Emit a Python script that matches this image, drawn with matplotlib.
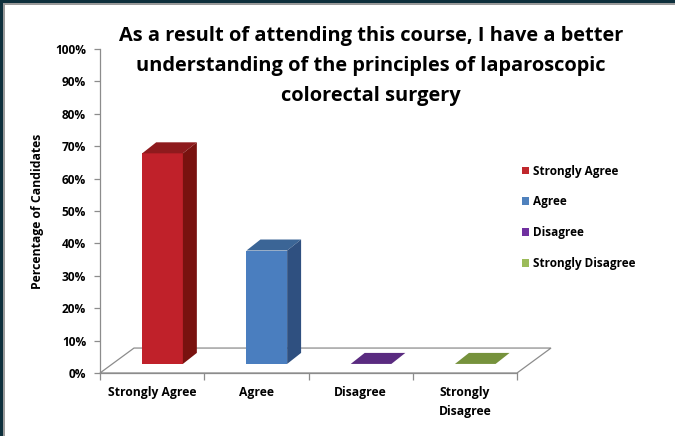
import matplotlib
matplotlib.use("Agg")
import matplotlib.pyplot as plt
from matplotlib.patches import Polygon, Rectangle, Patch

categories = ["Strongly Agree", "Agree", "Disagree", "Strongly\nDisagree"]
values = [65, 35, 0, 0]
yticks = [0, 10, 20, 30, 40, 50, 60, 70, 80, 90, 100]
ytick_labels = [f"{v}%" for v in yticks]
title_lines = ["As a result of attending this course, I have a better",
               "understanding of the principles of laparoscopic",
               "colorectal surgery"]
ylabel = "Percentage of Candidates"
legend_labels = ["Strongly Agree", "Agree", "Disagree", "Strongly Disagree"]

front_colors = ["#C0212A", "#4A7EBF", "#5A2B80", "#76923C"]
top_colors = ["#8E1A1D", "#3B6596", "#5A2B80", "#76923C"]
side_colors = ["#79120F", "#2F5080", "#4A2269", "#5F7830"]
legend_colors = ["#C0282D", "#4F81BD", "#7030A0", "#9BBB59"]

FONT = ["Open Sans", "DejaVu Sans"]
plt.rcParams["font.family"] = FONT
plt.rcParams["font.weight"] = "bold"

W, H = 675, 436
fig = plt.figure(figsize=(W / 100, H / 100), dpi=100)
fig.patch.set_facecolor("white")

# frame border (dark top & left bands with gray inner line)
fig.patches.append(Rectangle((0, 1 - 3 / H), 1, 3 / H, transform=fig.transFigure,
                             facecolor="#0D2F3C", edgecolor="none", zorder=0))
fig.patches.append(Rectangle((0, 1 - 5 / H), 1, 2 / H, transform=fig.transFigure,
                             facecolor="#9A9A9A", edgecolor="none", zorder=0))
fig.patches.append(Rectangle((0, 0), 3 / W, 1, transform=fig.transFigure,
                             facecolor="#0D2F3C", edgecolor="none", zorder=0))
fig.patches.append(Rectangle((3 / W, 0), 2 / W, 1 - 3 / H, transform=fig.transFigure,
                             facecolor="#9A9A9A", edgecolor="none", zorder=0))

ax = fig.add_axes([100 / W, 63 / H, 417 / W, 324 / H])
ax.set_xlim(-0.5, 3.5)
ax.set_ylim(0, 100)
ax.patch.set_alpha(0)
for s in ["top", "right", "bottom"]:
    ax.spines[s].set_visible(False)
ax.spines["left"].set_color("#8C8C8C")
ax.spines["left"].set_linewidth(0.9)

# floor depth (data units)
fdx, fdy = 0.326, 7.7
floor = Polygon([(-0.5, 0), (3.5, 0), (3.5 + fdx, fdy), (-0.5 + fdx, fdy)],
                closed=True, facecolor="none", edgecolor="#8C8C8C", lw=0.9,
                clip_on=False, zorder=1)
ax.add_patch(floor)

# bars
bx_off, bw, b0 = 0.10, 0.39, 2.8
ddx, ddy = 0.134, 3.4
xs = [i + bx_off for i in range(len(categories))]
bars = ax.bar(xs, values, width=bw, bottom=b0, color=front_colors,
              edgecolor="none", zorder=3)
for bar, tc, sc in zip(bars, top_colors, side_colors):
    x0 = bar.get_x()
    x1 = x0 + bar.get_width()
    yb = bar.get_y()
    yt = yb + bar.get_height()
    top = Polygon([(x0, yt), (x1, yt), (x1 + ddx, yt + ddy), (x0 + ddx, yt + ddy)],
                  closed=True, facecolor=tc, edgecolor="none", zorder=3, clip_on=False)
    ax.add_patch(top)
    if bar.get_height() > 0:
        side = Polygon([(x1, yb), (x1 + ddx, yb + ddy), (x1 + ddx, yt + ddy), (x1, yt)],
                       closed=True, facecolor=sc, edgecolor="none", zorder=3, clip_on=False)
        ax.add_patch(side)

# y axis ticks
ax.set_yticks(yticks)
ax.set_yticklabels(ytick_labels, fontsize=8.6, fontweight="bold")
ax.tick_params(axis="y", length=4, width=0.9, color="#8C8C8C", pad=6)

# x ticks at category boundaries, labels at centers
ax.set_xticks([-0.5, 0.5, 1.5, 2.5, 3.5])
ax.set_xticklabels([])
ax.tick_params(axis="x", length=5, width=0.9, color="#8C8C8C", direction="out")
ax.plot([-0.5, 3.5], [0, 0], color="#8C8C8C", lw=0.9, clip_on=False, zorder=1)
for i, c in enumerate(categories):
    ax.text(i, -4.0, c, ha="center", va="top", fontsize=8.7, fontweight="bold",
            linespacing=1.6)

ax.set_ylabel(ylabel, fontsize=8.8, fontweight="bold", labelpad=8)

for k, line in enumerate(title_lines):
    fig.text(371 / W, 1 - (36.5 + 29.5 * k) / H, line, ha="center", va="center",
             fontsize=14.4, fontweight="bold")

handles = [Patch(facecolor=c, edgecolor="none") for c in legend_colors]
fig.legend(handles, legend_labels, loc="upper left", bbox_to_anchor=(511 / W, 1 - 154 / H),
           frameon=False, handlelength=0.65, handleheight=0.65,
           handletextpad=0.3, labelspacing=1.5, prop={"weight": "bold", "size": 8.5})

fig.savefig("out.png", dpi=100)
